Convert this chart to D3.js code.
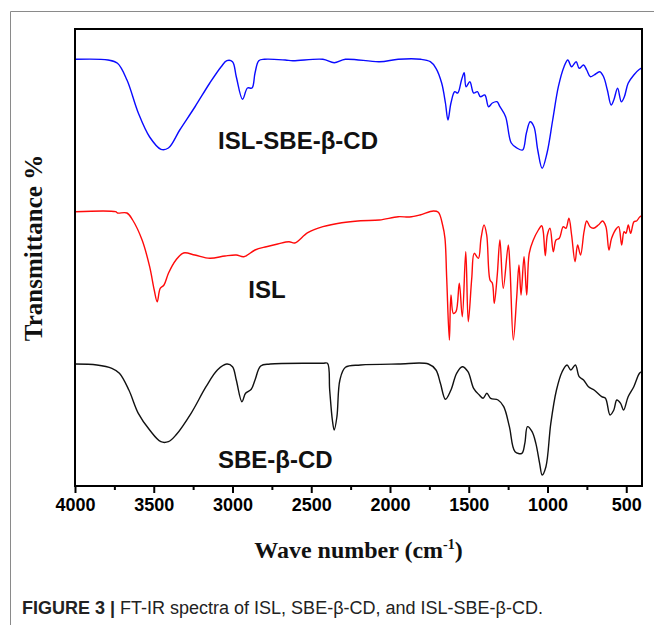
<!DOCTYPE html>
<html>
<head>
<meta charset="utf-8">
<script src="https://cdn.jsdelivr.net/npm/d3@7"></script>
<style>
  body { margin: 0; background: #fff; }
</style>
</head>
<body>
<div id="chart"></div>
<script>
// wave numbers (cm-1) and transmittance (arbitrary, stacked)
const blueWn = [4000,3790,3730,3670,3598,3526,3454,3407,3335,3239,3144,3072,3036,3000,2976,2936,2905,2876,2857,2833,2797,2665,2617,2426,2354,2283,2067,1948,1804,1744,1708,1672,1648,1632,1613,1589,1570,1546,1529,1517,1493,1469,1445,1426,1398,1374,1350,1321,1302,1266,1230,1194,1158,1134,1110,1086,1062,1034,1003,967,931,895,871,847,818,799,771,751,728,704,668,644,620,596,579,555,531,512,488,452,416,400];
const blueT = [426.7,426,422.7,406,373,349,336.7,338,356,379,403,419.3,425.3,424.3,409.3,386.7,398,398,413,425.3,426.7,426,425.3,426.7,423.3,426.7,424.3,426.7,426.7,424.3,417.7,403,383,366,383,394.3,393,406,413.3,399.3,404.3,393,394.3,389.3,391,379.3,383,384.3,379.3,369.3,343,338,336,353,364.3,359.3,336,317.7,333,366,399.3,419.3,426,419.3,424.3,417.7,421,416,409.3,411,414.3,409.3,396,381,386,397.7,384.3,389.3,402.7,411,416.7,418];

const redWn = [4000,3742,3730,3670,3634,3574,3526,3497,3478,3459,3435,3406,3359,3311,3239,3144,3048,2976,2928,2857,2785,2713,2641,2605,2522,2426,2306,2187,2067,1948,1876,1810,1725,1693,1666,1651,1640,1623,1613,1598,1581,1560,1541,1519,1503,1481,1465,1439,1422,1403,1386,1365,1350,1338,1319,1302,1281,1249,1238,1217,1196,1181,1168,1149,1132,1116,1090,1058,1037,1027,1014,1001,984,963,946,925,900,883,864,847,825,809,790,768,751,730,709,677,650,629,610,593,561,548,529,514,502,487,472,451,434,413,400];
const redT = [274.3,274.3,273,273,266,246,219.3,196,184.3,197.7,201,213,226,233,231,227.7,230,231,229.3,236,239.3,242,244.3,243,253.3,259.3,263.3,265.3,266,269.3,269,271,275,273.7,261,247.7,207.7,146,191,172.7,174.3,202.7,169.3,234.3,164.3,207.7,232.7,227.7,247.7,261,251,206,202.7,182.7,211,246,197.7,241,217.7,146,187.7,221,191,229.3,191,232.7,246,256,260.3,254.3,230.3,251,257.7,234.3,246,247.7,259.3,257.7,267.7,251,224.3,241,231,254.3,265,259.3,257.7,261,265,259.3,236,247.7,257.7,259.3,241,254.3,252.7,261,252.7,264.3,265,269.3,270];

const blackWn = [4000,3861,3766,3718,3658,3598,3526,3455,3407,3359,3263,3168,3096,3036,3000,2976,2940,2917,2881,2857,2821,2761,2426,2397,2383,2366,2354,2337,2318,2283,2187,1948,1756,1708,1680,1648,1613,1577,1541,1505,1469,1433,1409,1385,1361,1314,1278,1242,1206,1163,1144,1127,1098,1074,1050,1034,1010,979,943,907,876,852,823,799,771,740,704,656,632,603,579,560,536,517,488,452,416,400];
const blackT = [122,121,117.7,112.7,96,72.7,56,44.3,44.3,51,72.7,99.3,116,122,119.3,106,84.3,92.7,96.7,106,120,122,122.7,122.7,96,66,56,69.3,106,118.7,121,122,122,116,102.7,86.7,96,112.7,119.3,114.3,97.7,91,87.7,92.7,87.7,86,79.3,59.3,34.3,32.7,42.7,59.3,54.3,42.7,22.7,11,19.3,62.7,96,114.3,121,116,121,109.3,106,99.3,96,89.3,87.7,71,76,86,82.7,76,89.3,99.3,112.7,114.3];

const xTicks = [4000, 3500, 3000, 2500, 2000, 1500, 1000, 500];
const xMinorTicks = [3750, 3250, 2750, 2250, 1750, 1250, 750];

const seriesNames = ["ISL-SBE-β-CD", "ISL", "SBE-β-CD"];
const seriesColors = ["#0a0aff", "#ff0a0a", "#111111"];
const labelWn = [3092, 2900, 3092];
const labelT = [337, 188, 18];

const width = 654, height = 625;
const margin = { top: 29, right: 12, bottom: 139, left: 75 };

const svg = d3.select("#chart")
    .append("svg")
    .attr("width", width)
    .attr("height", height)
    .style("font-family", "Arial, 'Liberation Sans', sans-serif");

// outer figure frame (left and top rules only)
svg.append("path")
    .attr("d", `M10.5,${height} L10.5,11.5 L${width},11.5`)
    .attr("fill", "none")
    .attr("stroke", "#8a8a8a")
    .attr("stroke-width", 1);

const x = d3.scaleLinear()
    .domain([4000, 400])
    .range([margin.left, width - margin.right]);

const y = d3.scaleLinear()
    .domain([0, 457])
    .range([height - margin.bottom, margin.top]);

const line = d3.line()
    .x(d => x(d[0]))
    .y(d => y(d[1]))
    .curve(d3.curveCatmullRom.alpha(0.5));

const series = [
    d3.zip(blueWn, blueT),
    d3.zip(redWn, redT),
    d3.zip(blackWn, blackT)
];

svg.selectAll(".spectrum")
    .data(series)
    .enter()
    .append("path")
    .attr("class", "spectrum")
    .attr("d", line)
    .attr("fill", "none")
    .attr("stroke", (d, i) => seriesColors[i])
    .attr("stroke-width", 1.4)
    .attr("stroke-linejoin", "round");

// plot box
svg.append("rect")
    .attr("x", x(4000))
    .attr("y", y(457))
    .attr("width", x(400) - x(4000))
    .attr("height", y(0) - y(457))
    .attr("fill", "none")
    .attr("stroke", "#000")
    .attr("stroke-width", 2);

const xAxis = svg.append("g")
    .attr("transform", `translate(0,${y(0)})`)
    .call(d3.axisBottom(x).tickValues(xTicks).tickSize(7).tickPadding(5).tickFormat(d3.format("d")));

xAxis.append("g")
    .call(d3.axisBottom(x).tickValues(xMinorTicks).tickSize(4).tickFormat(""));

xAxis.selectAll(".domain").attr("stroke", "none");
xAxis.selectAll("line").attr("stroke", "#000").attr("stroke-width", 2);
xAxis.selectAll("text")
    .attr("fill", "#000")
    .attr("font-size", "18px")
    .attr("font-weight", "bold")
    .attr("font-family", "Arial, 'Liberation Sans', sans-serif");

// series labels
svg.selectAll(".label")
    .data(seriesNames)
    .enter()
    .append("text")
    .attr("class", "label")
    .attr("x", (d, i) => x(labelWn[i]))
    .attr("y", (d, i) => y(labelT[i]))
    .attr("font-size", "24px")
    .attr("font-weight", "bold")
    .attr("fill", "#111")
    .text(d => d);

// axis titles
const xTitle = svg.append("text")
    .attr("x", (x(4000) + x(400)) / 2)
    .attr("y", 558)
    .attr("text-anchor", "middle")
    .attr("font-family", "'Liberation Serif', 'Times New Roman', serif")
    .attr("font-weight", "bold")
    .attr("font-size", "24px")
    .attr("fill", "#111");
xTitle.append("tspan").text("Wave number (cm");
xTitle.append("tspan").attr("dy", -9).attr("font-size", "14px").text("-1");
xTitle.append("tspan").attr("dy", 9).text(")");

svg.append("text")
    .attr("transform", "translate(42,248) rotate(-90)")
    .attr("text-anchor", "middle")
    .attr("font-family", "'Liberation Serif', 'Times New Roman', serif")
    .attr("font-weight", "bold")
    .attr("font-size", "25px")
    .attr("fill", "#111")
    .text("Transmittance %");

// caption
const caption = svg.append("text")
    .attr("x", 22)
    .attr("y", 614)
    .attr("font-size", "18px")
    .attr("fill", "#222");
caption.append("tspan").attr("font-weight", "bold").text("FIGURE 3 | ");
caption.append("tspan").text("FT-IR spectra of ISL, SBE-β-CD, and ISL-SBE-β-CD.");
</script>
</body>
</html>
